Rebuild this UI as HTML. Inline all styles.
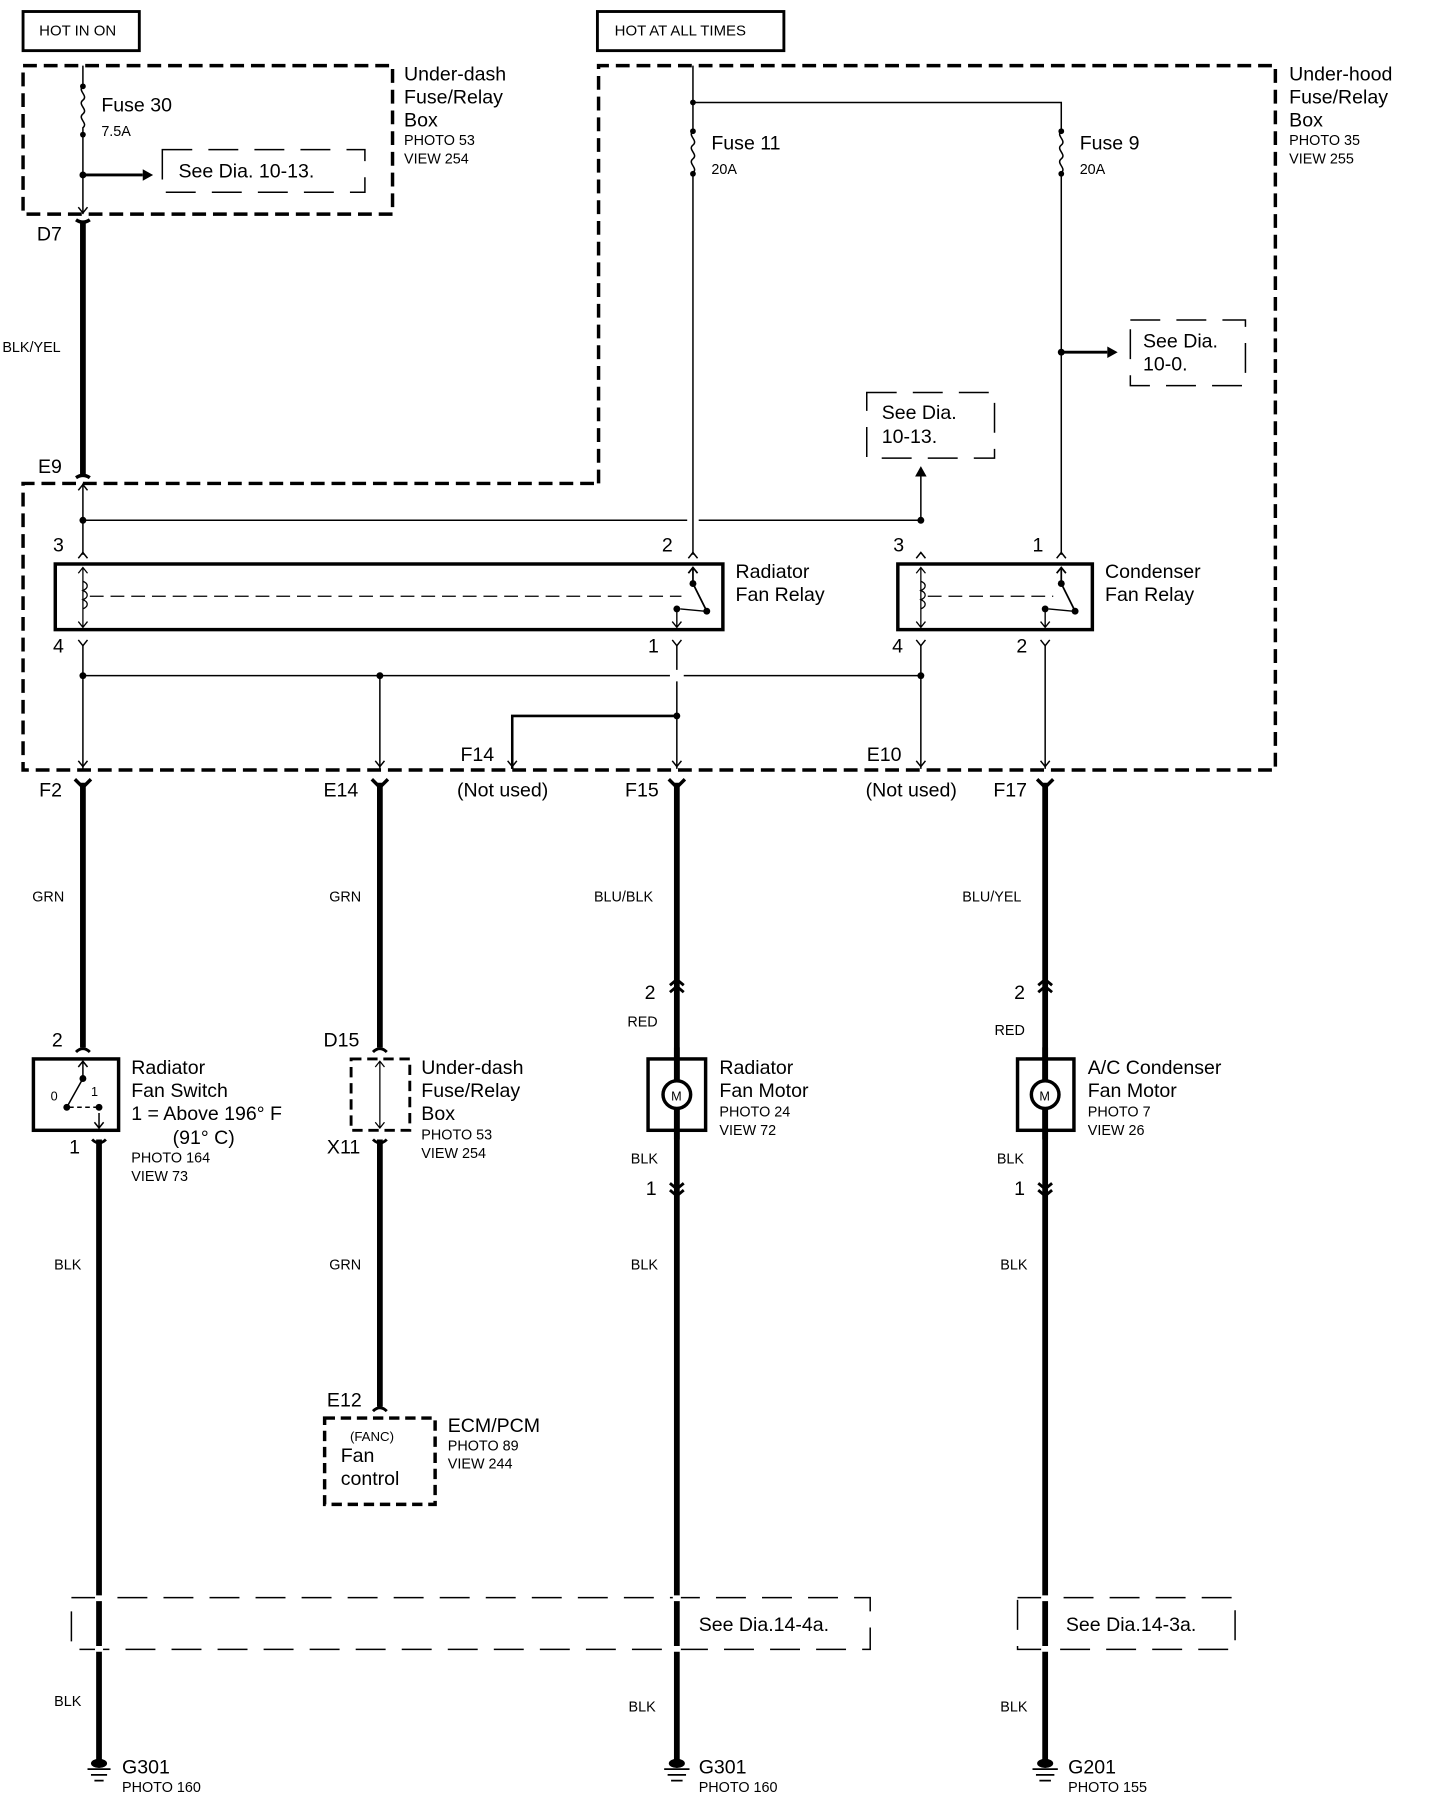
<!DOCTYPE html>
<html><head><meta charset="utf-8"><style>
html,body{margin:0;padding:0;background:#fff}
svg{display:block}
text{font-family:"Liberation Sans",Arial,sans-serif;fill:#000}
.L{font-size:17px}.S{font-size:12.5px}.T{font-size:13px}
</style></head><body>
<svg width="1440" height="1804" viewBox="0 0 1251 1567.3" xmlns="http://www.w3.org/2000/svg">
<g fill="none" stroke="#000">
<rect x="20" y="10" width="101" height="34" stroke-width="2.5"/>
<rect x="519" y="10" width="162" height="34" stroke-width="2.5"/>
<rect x="20" y="57" width="321" height="129" stroke-width="3" stroke-dasharray="12,6"/>
<path d="M520 420 V57 H1108 V669 H20 V420 Z" stroke-width="3" stroke-dasharray="12,6"/>
<rect x="141" y="130" width="176" height="37" stroke-width="1.3" stroke-dasharray="26,14"/>
<rect x="753" y="341" width="111" height="57" stroke-width="1.3" stroke-dasharray="26,14"/>
<rect x="982" y="278" width="100" height="57" stroke-width="1.3" stroke-dasharray="26,14"/>
<rect x="62" y="1388" width="694" height="45" stroke-width="1.3" stroke-dasharray="26,14"/>
<rect x="884" y="1388" width="189" height="45" stroke-width="1.3" stroke-dasharray="26,14"/>
<path d="M72 57 V75 M72 117 V186" stroke-width="1.3"/>
<path d="M72 75 c-5 4 5 8 0 12 c-5 4 5 8 0 12 c-5 4 5 8 0 12 V117" stroke-width="1.3"/>
<path d="M72 152 H124" stroke-width="2.5"/>
<path d="M602 57 V114 M602 151 V482 M602 89 H922 V114 M922 151 V482" stroke-width="1.3"/>
<path d="M602 114 c-5 4 5 8 0 12 c-5 4 5 8 0 12 c-5 4 5 8 0 12 M922 114 c-5 4 5 8 0 12 c-5 4 5 8 0 12 c-5 4 5 8 0 12" stroke-width="1.3"/>
<path d="M922 306 H962" stroke-width="2.5"/>
<path d="M800 452 V413" stroke-width="1.3"/>
<path d="M72 194 V412" stroke-width="5"/>
<path d="M66 191 Q72 195 78 191 M66 415 Q72 411 78 415" stroke-width="3"/>
<path d="M72 420 V482" stroke-width="1.3"/>
<path d="M68 426 L72 421 L76 426" stroke-width="1.3"/>
<path d="M68 180 L72 185 L76 180" stroke-width="1.3"/>
<path d="M72 452 H597 M607 452 H800" stroke-width="1.3"/>
<path d="M68 485 L72 480 L76 485 M598 485 L602 480 L606 485 M796 485 L800 480 L804 485 M918 485 L922 480 L926 485" stroke-width="1.3"/>
<rect x="48" y="490" width="580" height="57" stroke-width="3"/>
<rect x="780" y="490" width="169" height="57" stroke-width="3"/>
<path d="M72 493 V545 M68 498 L72 493 L76 498 M68 540 L72 545 L76 540" stroke-width="1.1"/>
<path d="M72 505 c5 2 5 6 0 8 c5 2 5 6 0 8 c5 2 5 6 0 8" stroke-width="1.1"/>
<path d="M800 493 V545 M796 498 L800 493 L804 498 M796 540 L800 545 L804 540" stroke-width="1.1"/>
<path d="M800 505 c5 2 5 6 0 8 c5 2 5 6 0 8 c5 2 5 6 0 8" stroke-width="1.1"/>
<path d="M78 518 H592 M806 518 H915" stroke-width="1.1" stroke-dasharray="12,6"/>
<path d="M602 493 V507 L614 531 M598 498 L602 493 L606 498" stroke-width="1.5"/>
<path d="M588 529 V545 M584 540 L588 545 L592 540 M591 529 L612 531" stroke-width="1.2"/>
<path d="M922 493 V507 L934 531 M918 498 L922 493 L926 498" stroke-width="1.5"/>
<path d="M908 529 V545 M904 540 L908 545 L912 540 M911 529 L932 531" stroke-width="1.2"/>
<path d="M68 556 L72 561 L76 556 M584 556 L588 561 L592 556 M796 556 L800 561 L804 556 M904 556 L908 561 L912 556" stroke-width="1.3"/>
<path d="M72 561 V668 M588 561 V582 M588 592 V668 M800 561 V668 M908 561 V668 M330 587 V668" stroke-width="1.3"/>
<path d="M72 587 H582 M594 587 H800" stroke-width="1.3"/>
<path d="M588 622 H445 V668" stroke-width="2.2"/>
<path d="M445 622 V668" stroke-width="1.3"/>
<path d="M68 661 L72 666 L76 661 M326 661 L330 666 L334 661 M441 661 L445 666 L449 661 M584 661 L588 666 L592 661 M796 661 L800 666 L804 661 M904 661 L908 666 L912 661" stroke-width="1.3"/>
<path d="M72 680 V910 M330 680 V910 M588 680 V1530 M908 680 V1530 M86 990 V1530 M330 990 V1222" stroke-width="5"/>
<path d="M65 677 L72 684 L79 677 M323 677 L330 684 L337 677 M581 677 L588 684 L595 677 M901 677 L908 684 L915 677" stroke-width="3"/>
<path d="M66 914 Q72 908 78 914 M324 914 Q330 908 336 914 M582 856 L588 851 L594 856 M582 862 L588 857 L594 862 M902 856 L908 851 L914 856 M902 862 L908 857 L914 862 M80 990 Q86 996 92 990 M324 990 Q330 996 336 990 M582 1028 L588 1033 L594 1028 M582 1034 L588 1039 L594 1034 M902 1028 L908 1033 L914 1028 M902 1034 L908 1039 L914 1034 M324 1226 Q330 1220 336 1226" stroke-width="2.5"/>
<rect x="29" y="920" width="74" height="62" stroke-width="3"/>
<path d="M72 922 V937 L58 962 M68 927 L72 922 L76 927 M86 967 V980 M82 975 L86 980 L90 975" stroke-width="1.3"/>
<path d="M60 962 H86" stroke-width="1.3" stroke-dasharray="4,3"/>
<rect x="305" y="920" width="51" height="62" stroke-width="2.5" stroke-dasharray="9,5"/>
<path d="M330 922 V980 M326 927 L330 922 L334 927 M326 975 L330 980 L334 975" stroke-width="1.1"/>
<rect x="282" y="1232" width="96" height="75" stroke-width="3" stroke-dasharray="9,5"/>
<rect x="563" y="920" width="50" height="62" stroke-width="3"/>
<rect x="884" y="920" width="49" height="62" stroke-width="3"/>
<path d="M588 910 V990 M908 910 V990" stroke-width="5"/>
<circle cx="588" cy="951" r="12" stroke-width="3" fill="#fff"/>
<circle cx="908" cy="951" r="12" stroke-width="3" fill="#fff"/>
<path d="M86 1386 v5 M86 1430 v5 M588 1386 v5 M588 1430 v5 M908 1386 v5 M908 1430 v5" stroke="#fff" stroke-width="7"/>
<path d="M76 1537 H96 M79 1542 H93 M82 1547 H90 M577 1537 H599 M580 1542 H596 M583 1547 H593 M897 1537 H919 M900 1542 H916 M903 1547 H913" stroke-width="1.5"/>
</g>
<g fill="#000">
<circle cx="72" cy="75" r="2.5"/><circle cx="72" cy="117" r="2.5"/><circle cx="72" cy="152" r="3"/>
<polygon points="124,147 133,152 124,157"/>
<circle cx="602" cy="89" r="2.5"/><circle cx="602" cy="114" r="2.5"/><circle cx="602" cy="151" r="2.5"/>
<circle cx="922" cy="114" r="2.5"/><circle cx="922" cy="151" r="2.5"/><circle cx="922" cy="306" r="3"/>
<polygon points="962,301 971,306 962,311"/>
<polygon points="795,414 800,405 805,414"/>
<circle cx="72" cy="452" r="3"/><circle cx="800" cy="452" r="3"/>
<circle cx="72" cy="587" r="3"/><circle cx="330" cy="587" r="3"/><circle cx="800" cy="587" r="3"/><circle cx="588" cy="622" r="3"/>
<circle cx="602" cy="507" r="3"/><circle cx="614" cy="531" r="3"/><circle cx="588" cy="529" r="3"/>
<circle cx="922" cy="507" r="3"/><circle cx="934" cy="531" r="3"/><circle cx="908" cy="529" r="3"/>
<circle cx="72" cy="937" r="3"/><circle cx="58" cy="962" r="3"/><circle cx="86" cy="962" r="3"/>
<ellipse cx="86" cy="1532" rx="7" ry="4"/><ellipse cx="588" cy="1532" rx="7" ry="4"/><ellipse cx="908" cy="1532" rx="7" ry="4"/>
</g>
<text x="34" y="31" class="T">HOT IN ON</text>
<text x="534" y="31" class="T">HOT AT ALL TIMES</text>
<text x="88" y="97" class="L">Fuse 30</text><text x="88" y="118" class="S">7.5A</text>
<text x="155" y="154" class="L">See Dia. 10-13.</text>
<text x="351" y="70" class="L">Under-dash</text><text x="351" y="90" class="L">Fuse/Relay</text><text x="351" y="110" class="L">Box</text>
<text x="351" y="126" class="S">PHOTO 53</text><text x="351" y="142" class="S">VIEW 254</text>
<text x="618" y="130" class="L">Fuse 11</text><text x="618" y="151" class="S">20A</text>
<text x="938" y="130" class="L">Fuse 9</text><text x="938" y="151" class="S">20A</text>
<text x="1120" y="70" class="L">Under-hood</text><text x="1120" y="90" class="L">Fuse/Relay</text><text x="1120" y="110" class="L">Box</text>
<text x="1120" y="126" class="S">PHOTO 35</text><text x="1120" y="142" class="S">VIEW 255</text>
<text x="993" y="302" class="L">See Dia.</text><text x="993" y="322" class="L">10-0.</text>
<text x="766" y="364" class="L">See Dia.</text><text x="766" y="385" class="L">10-13.</text>
<text x="32" y="209" class="L">D7</text><text x="2" y="306" class="S">BLK/YEL</text><text x="33" y="411" class="L">E9</text>
<text x="46" y="479" class="L">3</text><text x="575" y="479" class="L">2</text><text x="776" y="479" class="L">3</text><text x="897" y="479" class="L">1</text>
<text x="639" y="502" class="L">Radiator</text><text x="639" y="522" class="L">Fan Relay</text>
<text x="960" y="502" class="L">Condenser</text><text x="960" y="522" class="L">Fan Relay</text>
<text x="46" y="567" class="L">4</text><text x="563" y="567" class="L">1</text><text x="775" y="567" class="L">4</text><text x="883" y="567" class="L">2</text>
<text x="400" y="661" class="L">F14</text><text x="753" y="661" class="L">E10</text>
<text x="34" y="692" class="L">F2</text><text x="281" y="692" class="L">E14</text><text x="397" y="692" class="L">(Not used)</text>
<text x="543" y="692" class="L">F15</text><text x="752" y="692" class="L">(Not used)</text><text x="863" y="692" class="L">F17</text>
<text x="28" y="783" class="S">GRN</text><text x="286" y="783" class="S">GRN</text><text x="516" y="783" class="S">BLU/BLK</text><text x="836" y="783" class="S">BLU/YEL</text>
<text x="560" y="868" class="L">2</text><text x="545" y="892" class="S">RED</text>
<text x="881" y="868" class="L">2</text><text x="864" y="899" class="S">RED</text>
<text x="45" y="909" class="L">2</text><text x="281" y="909" class="L">D15</text>
<text x="114" y="933" class="L">Radiator</text><text x="114" y="953" class="L">Fan Switch</text><text x="114" y="973" class="L">1 =  Above 196° F</text><text x="150" y="994" class="L">(91° C)</text>
<text x="114" y="1010" class="S">PHOTO 164</text><text x="114" y="1026" class="S">VIEW 73</text>
<text x="44" y="956" font-size="11">0</text><text x="79" y="952" font-size="11">1</text>
<text x="60" y="1002" class="L">1</text><text x="284" y="1002" class="L">X11</text>
<text x="366" y="933" class="L">Under-dash</text><text x="366" y="953" class="L">Fuse/Relay</text><text x="366" y="973" class="L">Box</text>
<text x="366" y="990" class="S">PHOTO 53</text><text x="366" y="1006" class="S">VIEW 254</text>
<text x="583" y="956" font-size="11">M</text><text x="903" y="956" font-size="11">M</text>
<text x="625" y="933" class="L">Radiator</text><text x="625" y="953" class="L">Fan Motor</text><text x="625" y="970" class="S">PHOTO 24</text><text x="625" y="986" class="S">VIEW 72</text>
<text x="945" y="933" class="L">A/C Condenser</text><text x="945" y="953" class="L">Fan Motor</text><text x="945" y="970" class="S">PHOTO 7</text><text x="945" y="986" class="S">VIEW 26</text>
<text x="548" y="1011" class="S">BLK</text><text x="561" y="1038" class="L">1</text>
<text x="866" y="1011" class="S">BLK</text><text x="881" y="1038" class="L">1</text>
<text x="47" y="1103" class="S">BLK</text><text x="286" y="1103" class="S">GRN</text><text x="548" y="1103" class="S">BLK</text><text x="869" y="1103" class="S">BLK</text>
<text x="284" y="1222" class="L">E12</text>
<text x="304" y="1252" font-size="11.5">(FANC)</text><text x="296" y="1270" class="L">Fan</text><text x="296" y="1290" class="L">control</text>
<text x="389" y="1244" class="L">ECM/PCM</text><text x="389" y="1260" class="S">PHOTO 89</text><text x="389" y="1276" class="S">VIEW 244</text>
<text x="607" y="1417" class="L">See Dia.14-4a.</text><text x="926" y="1417" class="L">See Dia.14-3a.</text>
<text x="47" y="1482" class="S">BLK</text><text x="546" y="1487" class="S">BLK</text><text x="869" y="1487" class="S">BLK</text>
<text x="106" y="1541" class="L">G301</text><text x="106" y="1557" class="S">PHOTO 160</text>
<text x="607" y="1541" class="L">G301</text><text x="607" y="1557" class="S">PHOTO 160</text>
<text x="928" y="1541" class="L">G201</text><text x="928" y="1557" class="S">PHOTO 155</text>
</svg>
</body></html>
